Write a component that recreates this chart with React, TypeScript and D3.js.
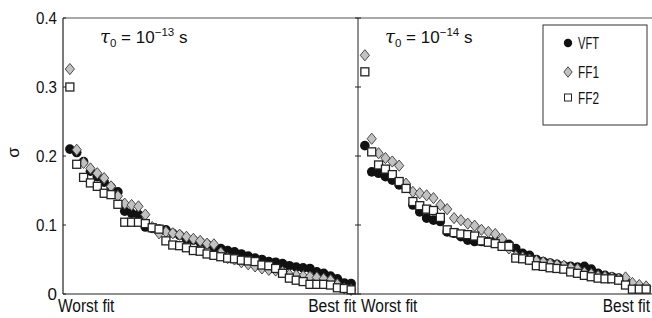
import React from 'react';
import * as d3 from 'd3';

// sigma values, ordered from worst fit to best fit
const vftLeft = [0.210, 0.205, 0.192, 0.178, 0.170, 0.162, 0.155, 0.148, 0.120, 0.117, 0.115, 0.097, 0.095, 0.094, 0.093, 0.088, 0.085, 0.080, 0.078, 0.075, 0.072, 0.068, 0.066, 0.063, 0.061, 0.058, 0.055, 0.052, 0.050, 0.047, 0.046, 0.044, 0.041, 0.039, 0.038, 0.037, 0.032, 0.030, 0.026, 0.022, 0.016, 0.015];
const ff1Left = [0.326, 0.209, 0.190, 0.182, 0.175, 0.168, 0.156, 0.142, 0.131, 0.129, 0.127, 0.115, 0.097, 0.088, 0.090, 0.088, 0.086, 0.083, 0.080, 0.077, 0.073, 0.072, 0.060, 0.052, 0.050, 0.046, 0.043, 0.040, 0.037, 0.035, 0.034, 0.032, 0.028, 0.027, 0.026, 0.025, 0.024, 0.022, 0.020, 0.014, 0.008, 0.006];
const ff2Left = [0.300, 0.188, 0.169, 0.161, 0.156, 0.146, 0.144, 0.130, 0.104, 0.104, 0.104, 0.102, 0.096, 0.094, 0.077, 0.071, 0.070, 0.067, 0.063, 0.062, 0.058, 0.056, 0.054, 0.052, 0.051, 0.049, 0.048, 0.047, 0.042, 0.041, 0.037, 0.030, 0.023, 0.020, 0.018, 0.014, 0.014, 0.014, 0.013, 0.009, 0.008, 0.006];

const vftRight = [0.215, 0.177, 0.175, 0.170, 0.165, 0.158, 0.155, 0.129, 0.119, 0.110, 0.107, 0.105, 0.090, 0.088, 0.083, 0.078, 0.076, 0.076, 0.076, 0.077, 0.076, 0.072, 0.066, 0.059, 0.056, 0.050, 0.047, 0.045, 0.043, 0.041, 0.040, 0.039, 0.040, 0.036, 0.030, 0.027, 0.025, 0.023, 0.018, 0.012, 0.010, 0.008];
const ff1Right = [0.346, 0.225, 0.204, 0.197, 0.192, 0.186, 0.160, 0.148, 0.146, 0.143, 0.139, 0.129, 0.123, 0.110, 0.107, 0.102, 0.099, 0.093, 0.090, 0.087, 0.080, 0.066, 0.055, 0.053, 0.050, 0.048, 0.046, 0.044, 0.042, 0.041, 0.038, 0.036, 0.031, 0.029, 0.026, 0.025, 0.024, 0.022, 0.024, 0.016, 0.013, 0.011];
const ff2Right = [0.322, 0.206, 0.187, 0.181, 0.173, 0.163, 0.153, 0.134, 0.128, 0.123, 0.121, 0.111, 0.093, 0.089, 0.087, 0.086, 0.084, 0.077, 0.075, 0.073, 0.069, 0.069, 0.052, 0.051, 0.049, 0.041, 0.040, 0.038, 0.037, 0.036, 0.032, 0.030, 0.027, 0.025, 0.023, 0.022, 0.022, 0.020, 0.013, 0.007, 0.007, 0.007];

const yTicks = [0, 0.1, 0.2, 0.3, 0.4];
const yTickLabels = ['0', '0.1', '0.2', '0.3', '0.4'];
const tauExponents = ['\u221213', '\u221214'];
const legendLabels = ['VFT', 'FF1', 'FF2'];

const font = '"Liberation Sans", Arial, sans-serif';

const diamond = (cx: number, cy: number, w: number, h: number) =>
  `M${cx},${cy - h}L${cx + w},${cy}L${cx},${cy + h}L${cx - w},${cy}Z`;

function Markers({ x, y, vft, ff1, ff2 }: any) {
  return (
    <g>
      {vft.map((d: number, i: number) => (
        <circle key={'v' + i} cx={x(i)} cy={y(d)} r={4.8} fill="#111" />
      ))}
      {ff1.map((d: number, i: number) => (
        <path key={'d' + i} d={diamond(x(i), y(d), 4.6, 5.6)} fill="#c2c2c2" stroke="#4a4a4a" strokeWidth={1} />
      ))}
      {ff2.map((d: number, i: number) => (
        <rect key={'s' + i} x={x(i) - 4} y={y(d) - 4} width={8} height={8} fill="#fff" stroke="#222" strokeWidth={1.3} />
      ))}
    </g>
  );
}

// condensed label: horizontally squeezed text
function Narrow({ x, y, anchor, sx, children }: any) {
  return (
    <g transform={`translate(${x},${y}) scale(${sx},1)`}>
      <text x={0} y={0} textAnchor={anchor} fontSize={18} fill="#111">{children}</text>
    </g>
  );
}

export default function App() {
  const width = 652;
  const height = 318;
  const top = 18;
  const bottom = 294;
  const left = 63;
  const mid = 358;
  const right = 653;

  const n = ff2Left.length;
  const xL = d3.scaleLinear().domain([-1, n]).range([left, mid]);
  const xR = d3.scaleLinear().domain([-1, n]).range([mid, right]);
  const y = d3.scaleLinear().domain([0, 0.4]).range([bottom, top]);

  const axisColor = '#222';
  const ink = '#111';
  const labelY = 311.5;

  return (
    <div style={{ position: 'fixed', left: 0, top: 0 }}>
      <svg width={width} height={height} style={{ display: 'block', fontFamily: font }}>
        <rect width={width} height={height} fill="#fff" />

        <Markers x={xL} y={y} vft={vftLeft} ff1={ff1Left} ff2={ff2Left} />
        <Markers x={xR} y={y} vft={vftRight} ff1={ff1Right} ff2={ff2Right} />

        {/* frame */}
        <line x1={left} x2={right} y1={top} y2={top} stroke="#555" strokeWidth={1} />
        <line x1={left} x2={right} y1={bottom} y2={bottom} stroke={axisColor} strokeWidth={1.2} />
        <line x1={left} x2={left} y1={top} y2={bottom} stroke={axisColor} strokeWidth={1.2} />
        <line x1={mid} x2={mid} y1={top} y2={bottom} stroke={axisColor} strokeWidth={1} />

        {/* y ticks */}
        {yTicks.map((t, i) => (
          <g key={t}>
            <line x1={left} x2={left + 3} y1={y(t)} y2={y(t)} stroke={axisColor} />
            <line x1={mid - 3} x2={mid + 3} y1={y(t)} y2={y(t)} stroke={axisColor} />
            <text x={left - 6} y={y(t)} dy="0.36em" textAnchor="end" fontSize={17} fill={ink}
              textLength={yTickLabels[i].length > 1 ? 21 : undefined} lengthAdjust="spacingAndGlyphs">
              {yTickLabels[i]}
            </text>
          </g>
        ))}

        <text
          transform={`translate(19,${y(0.205)}) rotate(-90)`}
          textAnchor="middle"
          fontSize={17}
          fill={ink}
        >
          σ
        </text>

        {/* x labels */}
        <Narrow x={58} y={labelY} anchor="start" sx={0.86}>Worst fit</Narrow>
        <Narrow x={356} y={labelY} anchor="end" sx={0.87}>Best fit</Narrow>
        <Narrow x={361} y={labelY} anchor="start" sx={0.86}>Worst fit</Narrow>
        <Narrow x={650} y={labelY} anchor="end" sx={0.86}>Best fit</Narrow>

        {/* tau labels */}
        {[xL, xR].map((xs, k) => (
          <text key={k} x={xs(-1) + (k === 0 ? 37 : 27)} y={43} fontSize={17} fill={ink}>
            <tspan fontStyle="italic" fontFamily='"DejaVu Serif", serif' fontSize={18}>τ</tspan>
            <tspan fontSize={11.5} dy={4}>0</tspan>
            <tspan dy={-4}> = 10</tspan>
            <tspan fontSize={11.5} dy={-7}>{tauExponents[k]}</tspan>
            <tspan dy={7}> s</tspan>
          </text>
        ))}

        {/* legend */}
        <g>
          <rect x={543} y={25} width={104} height={100} fill="#fff" stroke="#333" strokeWidth={1} />
          <circle cx={568} cy={43} r={4.2} fill="#111" />
          <path d={diamond(568, 72, 4.2, 5.2)} fill="#c2c2c2" stroke="#4a4a4a" />
          <rect x={564.5} y={94} width={7} height={7} fill="#fff" stroke="#222" />
          {legendLabels.map((l, i) => (
            <text key={l} x={578} y={[43, 72, 98][i]} dy="0.36em" fontSize={16.5} fill={ink}
              textLength={21} lengthAdjust="spacingAndGlyphs">{l}</text>
          ))}
        </g>
      </svg>
    </div>
  );
}
